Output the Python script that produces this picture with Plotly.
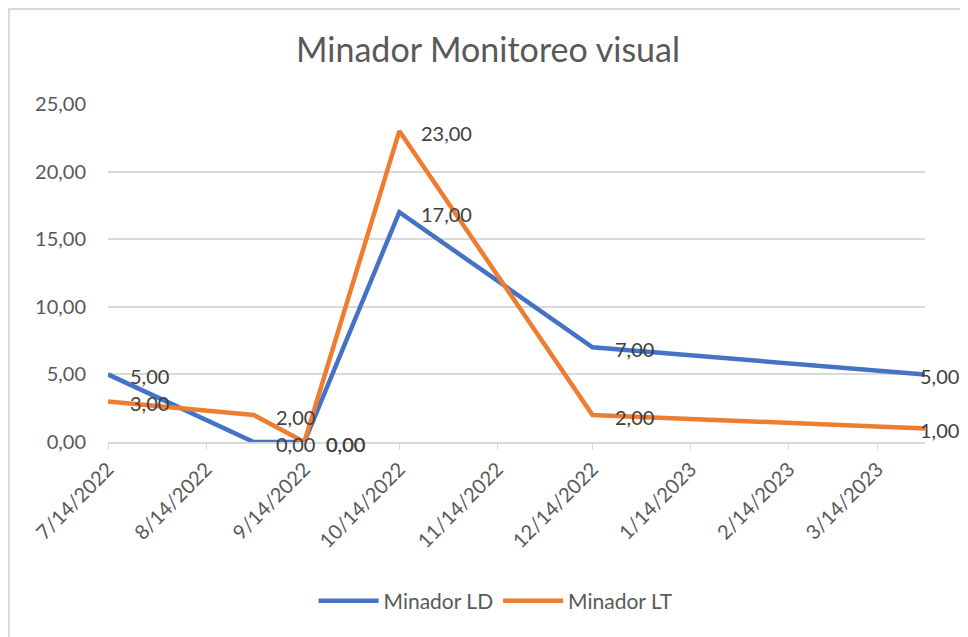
import plotly.graph_objects as go

dates = ["2022-07-14", "2022-08-29", "2022-09-14", "2022-10-14", "2022-12-14", "2023-03-29"]
minador_ld = [5, 0, 0, 17, 7, 5]
minador_lt = [3, 2, 0, 23, 2, 1]
tick_dates = ["2022-07-14", "2022-08-14", "2022-09-14", "2022-10-14", "2022-11-14",
              "2022-12-14", "2023-01-14", "2023-02-14", "2023-03-14"]
tick_text = ["7/14/2022", "8/14/2022", "9/14/2022", "10/14/2022", "11/14/2022",
             "12/14/2022", "1/14/2023", "2/14/2023", "3/14/2023"]
y_ticks = [0, 5, 10, 15, 20, 25]

FONT = "Lato, 'Open Sans', sans-serif"
BLUE = "#4472C4"
ORANGE = "#ED7D31"

fig = go.Figure()
fig.add_trace(go.Scatter(x=dates, y=minador_ld, mode="lines", name="Minador LD",
                         line=dict(color=BLUE, width=4.5)))
fig.add_trace(go.Scatter(x=dates, y=minador_lt, mode="lines", name="Minador LT",
                         line=dict(color=ORANGE, width=4.5)))

def fmt(v):
    return f"{v:.2f}".replace(".", ",")

annotations = []
for series in (minador_ld, minador_lt):
    for i, (d, v) in enumerate(zip(dates, series)):
        last = i == len(dates) - 1
        annotations.append(dict(x=d, y=v, xref="x", yref="y", text=fmt(v),
                                showarrow=False, xanchor="left", yanchor="middle",
                                xshift=-7 if last else 20, yshift=-2,
                                font=dict(family=FONT, size=20, color="#404040")))

W, H = 960, 629
l, r, t, b = 100, 43, 96, 195
pw = W - l - r
ph = H - t - b
shapes = [dict(type="rect", xref="paper", yref="paper",
               x0=(1 - l) / pw, x1=(W + 20 - l) / pw,
               y0=(H - b - (H + 20)) / ph, y1=(H - b - 1) / ph,
               line=dict(color="#d9d9d9", width=2), fillcolor="rgba(0,0,0,0)", layer="below")]

fig.update_layout(
    width=W, height=H,
    margin=dict(l=l, r=r, t=t, b=b),
    paper_bgcolor="white", plot_bgcolor="white",
    title=dict(text="Minador Monitoreo visual", x=0.5, xanchor="center", y=1 - 42 / H, yanchor="middle",
               font=dict(family=FONT, size=34, color="#595959")),
    xaxis=dict(type="date", range=["2022-07-14", "2023-03-29"],
               tickvals=tick_dates, ticktext=tick_text, tickangle=-45,
               showgrid=False, showline=True, linecolor="#d9d9d9", linewidth=1.5,
               ticks="outside", ticklen=6, tickcolor="#d9d9d9",
               tickfont=dict(family=FONT, size=20, color="#595959"), zeroline=False),
    yaxis=dict(range=[0, 25], tickvals=y_ticks, ticktext=[fmt(v) for v in y_ticks],
               showgrid=True, gridcolor="#d9d9d9", gridwidth=1.5, zeroline=False,
               showline=False, ticks="", ticklabelstandoff=21,
               tickfont=dict(family=FONT, size=20, color="#595959")),
    legend=dict(orientation="h", x=0.475, xanchor="center", y=(H - b - 593) / ph, yanchor="middle",
                font=dict(family=FONT, size=21, color="#595959"), itemwidth=60),
    annotations=annotations,
    shapes=shapes,
    showlegend=True,
)

fig.write_html("out.html")
